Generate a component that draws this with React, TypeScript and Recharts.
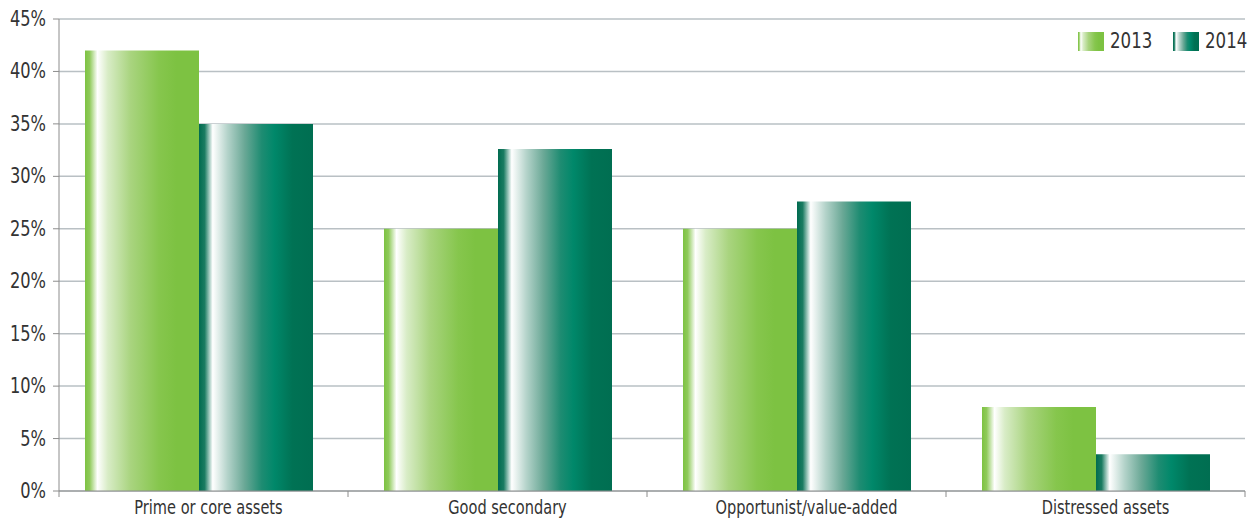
import { BarChart, Bar, XAxis, YAxis, CartesianGrid, Legend } from 'recharts'

const categories = ['Prime or core assets', 'Good secondary', 'Opportunist/value-added', 'Distressed assets']
const values2013 = [42, 25, 25, 8]
const values2014 = [35, 32.6, 27.6, 3.5]
const yTicks = [0, 5, 10, 15, 20, 25, 30, 35, 40, 45]

const data = categories.map((name, i) => ({ name, y2013: values2013[i], y2014: values2014[i] }))

const WIDTH = 1249
const HEIGHT = 518
const MARGIN = { top: 19, right: 4, left: 0, bottom: 0 }
const Y_AXIS_W = 59
// bands start a little left of the y axis line, as in the source chart
const X_PAD_LEFT = -10
const PLOT_LEFT = MARGIN.left + Y_AXIS_W
const BAND = (WIDTH - MARGIN.left - MARGIN.right - Y_AXIS_W - X_PAD_LEFT) / categories.length
const FONT = '"DejaVu Sans Condensed", sans-serif'
const TEXT = '#333333'
const AXIS = '#8c8c8c'

const stops2013: [string, string][] = [
  ['0%', '#7dc242'], ['4%', '#8fca5a'], ['11%', '#ffffff'], ['20%', '#d8ecc6'],
  ['40%', '#a9d47f'], ['65%', '#86c64d'], ['80%', '#7dc242'], ['100%', '#7dc242'],
]
const stops2014: [string, string][] = [
  ['0%', '#006b4f'], ['5%', '#1b7c62'], ['12%', '#ffffff'], ['25%', '#b4d3ca'],
  ['40%', '#6aa896'], ['55%', '#1e8c72'], ['66%', '#00886a'], ['82%', '#007254'], ['100%', '#006e51'],
]
const cssGradient = (stops: [string, string][]) =>
  `linear-gradient(to right, ${stops.map(([o, c]) => `${c} ${o}`).join(', ')})`
const legendGradients = [cssGradient(stops2013), cssGradient(stops2014)]

function XTick({ x, y, payload, index }: any) {
  const half = BAND / 2
  const left = index === 0 ? PLOT_LEFT : x - half
  return (
    <g>
      <line x1={left} x2={left} y1={y - 6} y2={y} stroke={AXIS} />
      {index === categories.length - 1 && (
        <line x1={x + half} x2={x + half} y1={y - 6} y2={y} stroke={AXIS} />
      )}
      <text
        transform={`translate(${x + 10},${y + 17}) scale(0.81,1)`}
        textAnchor="middle"
        fill={TEXT}
        fontSize={20}
        fontFamily={FONT}
      >
        {payload.value}
      </text>
    </g>
  )
}

function YTick({ x, y, payload }: any) {
  return (
    <text
      transform={`translate(${x},${y + 7}) scale(0.86,1)`}
      textAnchor="end"
      fill={TEXT}
      fontSize={21}
      fontFamily={FONT}
    >
      {`${payload.value}%`}
    </text>
  )
}

function LegendContent({ payload }: any) {
  return (
    <div style={{ display: 'flex', alignItems: 'center', fontFamily: FONT }}>
      {(payload || []).map((entry: any, i: number) => (
        <div key={entry.value} style={{ display: 'flex', alignItems: 'center', width: i ? 76 : 95, flexShrink: 0 }}>
          <span style={{ display: 'inline-block', flexShrink: 0, width: 26, height: 19, background: legendGradients[i] }} />
          <span
            style={{
              display: 'inline-block',
              marginLeft: 6,
              fontSize: 22,
              color: TEXT,
              lineHeight: '22px',
              transform: 'scale(0.84,1)',
              transformOrigin: 'left center',
              whiteSpace: 'nowrap',
            }}
          >
            {entry.value}
          </span>
        </div>
      ))}
    </div>
  )
}

export default function App() {
  return (
    <div style={{ position: 'absolute', left: 0, top: 0, width: WIDTH, height: HEIGHT, background: '#fff' }}>
      <BarChart width={WIDTH} height={HEIGHT} data={data} margin={MARGIN} barGap={0}>
        <defs>
          <linearGradient id="g2013" x1="0" y1="0" x2="1" y2="0">
            {stops2013.map(([o, c]) => <stop key={o} offset={o} stopColor={c} />)}
          </linearGradient>
          <linearGradient id="g2014" x1="0" y1="0" x2="1" y2="0">
            {stops2014.map(([o, c]) => <stop key={o} offset={o} stopColor={c} />)}
          </linearGradient>
        </defs>
        <CartesianGrid vertical={false} stroke="#b9c0c4" strokeWidth={1.5} />
        <XAxis
          dataKey="name"
          height={27}
          tickSize={6}
          tickMargin={0}
          tickLine={false}
          axisLine={{ stroke: AXIS }}
          tick={<XTick />}
          interval={0}
          padding={{ left: X_PAD_LEFT, right: 0 }}
        />
        <YAxis
          width={Y_AXIS_W}
          domain={[0, 45]}
          ticks={yTicks}
          tickSize={6}
          tickMargin={7}
          axisLine={{ stroke: AXIS }}
          tickLine={{ stroke: AXIS }}
          tick={<YTick />}
        />
        <Legend
          layout="horizontal"
          verticalAlign="middle"
          align="center"
          content={<LegendContent />}
          wrapperStyle={{ top: 30, left: 1078, width: 171, height: 22 }}
        />
        <Bar dataKey="y2013" name="2013" fill="url(#g2013)" barSize={114} isAnimationActive={false} />
        <Bar dataKey="y2014" name="2014" fill="url(#g2014)" barSize={114} isAnimationActive={false} />
      </BarChart>
    </div>
  )
}
